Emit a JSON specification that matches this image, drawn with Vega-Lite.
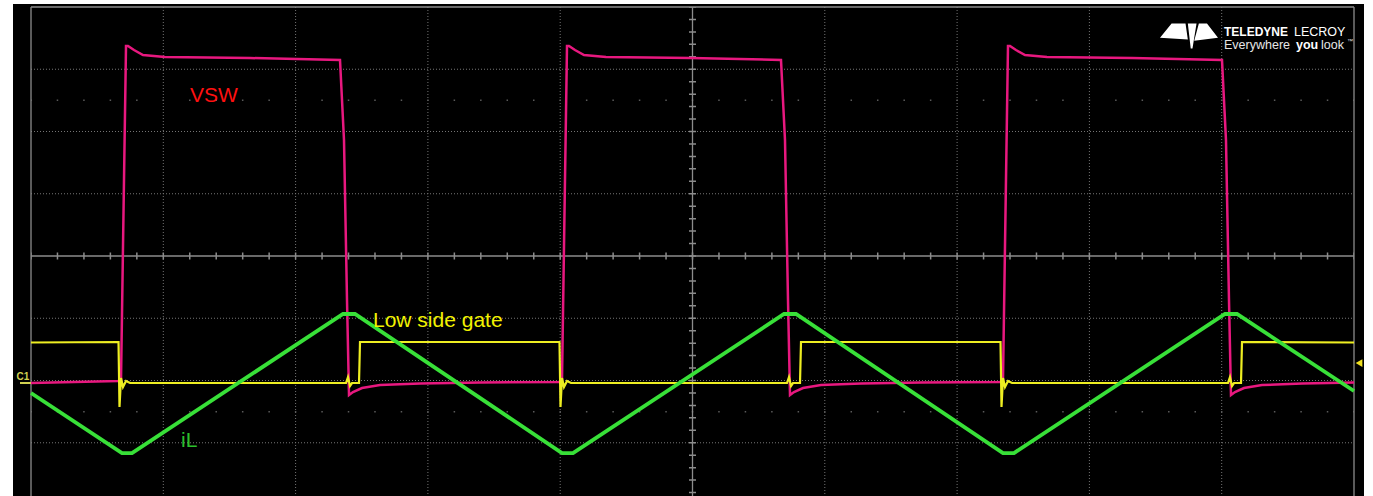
{
  "$schema": "https://vega.github.io/schema/vega-lite/v6.json",
  "width": 1351,
  "height": 492,
  "autosize": {"type": "none"},
  "padding": {"left": 13, "top": 4, "right": 9, "bottom": 0},
  "background": "white",
  "view": {"fill": "black", "stroke": null},
  "datasets": {
    "traces": [
      {"ch": "VSW", "t": 0, "v": -2.0402}, {"ch": "VSW", "t": 0.6576, "v": -2.008}, {"ch": "VSW", "t": 0.6803, "v": -1.992},
      {"ch": "VSW", "t": 0.7181, "v": 3.3735}, {"ch": "VSW", "t": 0.7332, "v": 3.3735}, {"ch": "VSW", "t": 0.7785, "v": 3.3092},
      {"ch": "VSW", "t": 0.8466, "v": 3.2289}, {"ch": "VSW", "t": 1.0128, "v": 3.1968}, {"ch": "VSW", "t": 1.6553, "v": 3.1807},
      {"ch": "VSW", "t": 2.3356, "v": 3.1486}, {"ch": "VSW", "t": 2.3658, "v": 1.8635}, {"ch": "VSW", "t": 2.3885, "v": -0.7068},
      {"ch": "VSW", "t": 2.4036, "v": -2.2329}, {"ch": "VSW", "t": 2.4339, "v": -2.1847}, {"ch": "VSW", "t": 2.5019, "v": -2.1205},
      {"ch": "VSW", "t": 2.6379, "v": -2.0723}, {"ch": "VSW", "t": 2.9403, "v": -2.0482}, {"ch": "VSW", "t": 3.3938, "v": -2.0321},
      {"ch": "VSW", "t": 3.9909, "v": -2.0241},
      {"ch": "VSW", "t": 4.0136, "v": -1.992}, {"ch": "VSW", "t": 4.0514, "v": 3.3735}, {"ch": "VSW", "t": 4.0665, "v": 3.3735},
      {"ch": "VSW", "t": 4.1118, "v": 3.3092}, {"ch": "VSW", "t": 4.1799, "v": 3.2289}, {"ch": "VSW", "t": 4.3461, "v": 3.1968},
      {"ch": "VSW", "t": 4.9887, "v": 3.1807}, {"ch": "VSW", "t": 5.6689, "v": 3.1486}, {"ch": "VSW", "t": 5.6991, "v": 1.8635},
      {"ch": "VSW", "t": 5.7218, "v": -0.7068}, {"ch": "VSW", "t": 5.7369, "v": -2.2329}, {"ch": "VSW", "t": 5.7672, "v": -2.1847},
      {"ch": "VSW", "t": 5.8352, "v": -2.1205}, {"ch": "VSW", "t": 5.9712, "v": -2.0723}, {"ch": "VSW", "t": 6.2736, "v": -2.0482},
      {"ch": "VSW", "t": 6.7271, "v": -2.0321}, {"ch": "VSW", "t": 7.3242, "v": -2.0241},
      {"ch": "VSW", "t": 7.3469, "v": -1.992}, {"ch": "VSW", "t": 7.3847, "v": 3.3735}, {"ch": "VSW", "t": 7.3998, "v": 3.3735},
      {"ch": "VSW", "t": 7.4451, "v": 3.3092}, {"ch": "VSW", "t": 7.5132, "v": 3.2289}, {"ch": "VSW", "t": 7.6794, "v": 3.1968},
      {"ch": "VSW", "t": 8.322, "v": 3.1807}, {"ch": "VSW", "t": 9.0022, "v": 3.1486}, {"ch": "VSW", "t": 9.0324, "v": 1.8635},
      {"ch": "VSW", "t": 9.0551, "v": -0.7068}, {"ch": "VSW", "t": 9.0702, "v": -2.2329}, {"ch": "VSW", "t": 9.1005, "v": -2.1847},
      {"ch": "VSW", "t": 9.1685, "v": -2.1205}, {"ch": "VSW", "t": 9.3045, "v": -2.0723}, {"ch": "VSW", "t": 9.6069, "v": -2.0482},
      {"ch": "VSW", "t": 10, "v": -2.0321},

      {"ch": "gate", "t": 0, "v": -1.3896}, {"ch": "gate", "t": 0.6614, "v": -1.3815}, {"ch": "gate", "t": 0.6689, "v": -2.4257},
      {"ch": "gate", "t": 0.6803, "v": -1.9598}, {"ch": "gate", "t": 0.6954, "v": -2.1044}, {"ch": "gate", "t": 0.7181, "v": -2.008},
      {"ch": "gate", "t": 0.7483, "v": -2.0402}, {"ch": "gate", "t": 2.381, "v": -2.0402}, {"ch": "gate", "t": 2.3961, "v": -1.9438},
      {"ch": "gate", "t": 2.4112, "v": -2.0884}, {"ch": "gate", "t": 2.4263, "v": -2.0402}, {"ch": "gate", "t": 2.4792, "v": -2.0402},
      {"ch": "gate", "t": 2.4868, "v": -1.3815},
      {"ch": "gate", "t": 3.9947, "v": -1.3815}, {"ch": "gate", "t": 4.0022, "v": -2.4257}, {"ch": "gate", "t": 4.0136, "v": -1.9598},
      {"ch": "gate", "t": 4.0287, "v": -2.1044}, {"ch": "gate", "t": 4.0514, "v": -2.008}, {"ch": "gate", "t": 4.0816, "v": -2.0402},
      {"ch": "gate", "t": 5.7143, "v": -2.0402}, {"ch": "gate", "t": 5.7294, "v": -1.9438}, {"ch": "gate", "t": 5.7445, "v": -2.0884},
      {"ch": "gate", "t": 5.7596, "v": -2.0402}, {"ch": "gate", "t": 5.8125, "v": -2.0402}, {"ch": "gate", "t": 5.8201, "v": -1.3815},
      {"ch": "gate", "t": 7.3281, "v": -1.3815}, {"ch": "gate", "t": 7.3356, "v": -2.4257}, {"ch": "gate", "t": 7.3469, "v": -1.9598},
      {"ch": "gate", "t": 7.3621, "v": -2.1044}, {"ch": "gate", "t": 7.3847, "v": -2.008}, {"ch": "gate", "t": 7.415, "v": -2.0402},
      {"ch": "gate", "t": 9.0476, "v": -2.0402}, {"ch": "gate", "t": 9.0627, "v": -1.9438}, {"ch": "gate", "t": 9.0778, "v": -2.0884},
      {"ch": "gate", "t": 9.093, "v": -2.0402}, {"ch": "gate", "t": 9.1459, "v": -2.0402}, {"ch": "gate", "t": 9.1535, "v": -1.3815},
      {"ch": "gate", "t": 10, "v": -1.3896},

      {"ch": "iL", "t": 0, "v": -2.2008}, {"ch": "iL", "t": 0.6878, "v": -3.1647}, {"ch": "iL", "t": 0.7634, "v": -3.1647},
      {"ch": "iL", "t": 2.3583, "v": -0.9317}, {"ch": "iL", "t": 2.449, "v": -0.9317}, {"ch": "iL", "t": 4.0136, "v": -3.1647},
      {"ch": "iL", "t": 4.0968, "v": -3.1647}, {"ch": "iL", "t": 5.6916, "v": -0.9317}, {"ch": "iL", "t": 5.7823, "v": -0.9317},
      {"ch": "iL", "t": 7.3469, "v": -3.1647}, {"ch": "iL", "t": 7.4301, "v": -3.1647}, {"ch": "iL", "t": 9.0249, "v": -0.9317},
      {"ch": "iL", "t": 9.1157, "v": -0.9317}, {"ch": "iL", "t": 10, "v": -2.1687}
    ]
  },
  "encoding": {
    "x": {"field": "t", "type": "quantitative", "scale": {"domain": [-0.1361, 10.0756], "nice": false, "zero": false}, "axis": null},
    "y": {"field": "v", "type": "quantitative", "scale": {"domain": [-3.855, 4.048], "nice": false, "zero": false}, "axis": null}
  },
  "layer": [
    {
      "data": {"values": [
        {"t": 0, "t2": 10, "v": 3}, {"t": 0, "t2": 10, "v": 2}, {"t": 0, "t2": 10, "v": 1},
        {"t": 0, "t2": 10, "v": -1}, {"t": 0, "t2": 10, "v": -2}, {"t": 0, "t2": 10, "v": -3}
      ]},
      "mark": {"type": "rule", "color": "#767676", "strokeWidth": 1, "strokeDash": [1, 2]},
      "encoding": {"x2": {"field": "t2"}}
    },
    {
      "data": {"values": [
        {"t": 1, "v": 4, "v2": -3.9}, {"t": 2, "v": 4, "v2": -3.9}, {"t": 3, "v": 4, "v2": -3.9}, {"t": 4, "v": 4, "v2": -3.9},
        {"t": 6, "v": 4, "v2": -3.9}, {"t": 7, "v": 4, "v2": -3.9}, {"t": 8, "v": 4, "v2": -3.9}, {"t": 9, "v": 4, "v2": -3.9}
      ]},
      "mark": {"type": "rule", "color": "#767676", "strokeWidth": 1, "strokeDash": [1, 2]},
      "encoding": {"y2": {"field": "v2"}}
    },
    {
      "data": {"values": [{"t": 0, "t2": 10, "v": 2.5}, {"t": 0, "t2": 10, "v": -2.5}]},
      "mark": {"type": "rule", "color": "#5a5a5a", "strokeWidth": 1.5, "strokeDash": [1.5, 24.96], "strokeDashOffset": 0.75},
      "encoding": {"x2": {"field": "t2"}}
    },
    {
      "data": {"values": [{"t": 0, "t2": 10, "v": 4}, {"t": 0, "t2": 10, "v": 0}]},
      "mark": {"type": "rule", "color": "#8c8c8c", "strokeWidth": 1.3},
      "encoding": {"x2": {"field": "t2"}}
    },
    {
      "data": {"values": [{"t": 0, "v": 4, "v2": -3.9}, {"t": 10, "v": 4, "v2": -3.9}, {"t": 5, "v": 4, "v2": -3.9}]},
      "mark": {"type": "rule", "color": "#8c8c8c", "strokeWidth": 1.3},
      "encoding": {"y2": {"field": "v2"}}
    },
    {
      "data": {"values": [{"t": 0, "t2": 10, "v": 0}]},
      "mark": {"type": "rule", "color": "#8c8c8c", "strokeWidth": 7, "strokeDash": [1.5, 24.96], "strokeDashOffset": 0.75},
      "encoding": {"x2": {"field": "t2"}}
    },
    {
      "data": {"values": [{"t": 5, "v": 4, "v2": -3.9}]},
      "mark": {"type": "rule", "color": "#8c8c8c", "strokeWidth": 7, "strokeDash": [1.5, 10.95], "strokeDashOffset": 0.75},
      "encoding": {"y2": {"field": "v2"}}
    },
    {
      "data": {"name": "traces"},
      "transform": [{"filter": "datum.ch === 'VSW'"}],
      "mark": {"type": "line", "color": "#e8187f", "strokeWidth": 2.5, "interpolate": "linear"}
    },
    {
      "data": {"name": "traces"},
      "transform": [{"filter": "datum.ch === 'gate'"}],
      "mark": {"type": "line", "color": "#eeee22", "strokeWidth": 2.2, "interpolate": "linear"}
    },
    {
      "data": {"name": "traces"},
      "transform": [{"filter": "datum.ch === 'iL'"}],
      "mark": {"type": "line", "color": "#38e038", "strokeWidth": 3.8, "interpolate": "linear"}
    },
    {
      "data": {"values": [
        {"label": "VSW", "t": 1.2018, "v": 2.474},
        {"label": "Low side gate", "t": 2.585, "v": -1.1406},
        {"label": "iL", "t": 1.1338, "v": -3.068}
      ]},
      "mark": {"type": "text", "align": "left", "baseline": "alphabetic", "font": "Liberation Sans", "fontSize": 21},
      "encoding": {
        "text": {"field": "label"},
        "color": {"field": "label", "type": "nominal", "legend": null,
          "scale": {"domain": ["VSW", "Low side gate", "iL"], "range": ["#ff1010", "#f2f200", "#2cc02c"]}}
      }
    },
    {
      "data": {"values": [{"label": "C1", "t": -0.0605, "v": -1.992}]},
      "mark": {"type": "text", "align": "center", "baseline": "alphabetic", "font": "Liberation Sans", "fontSize": 10, "fontWeight": "bold", "color": "#d0d050"},
      "encoding": {"text": {"field": "label"}}
    },
    {
      "data": {"values": [{"t": -0.0831, "t2": 0, "v": -2.04}]},
      "mark": {"type": "rule", "color": "#d0d050", "strokeWidth": 2},
      "encoding": {"x2": {"field": "t2"}}
    },
    {
      "data": {"values": [{"t": 10.0378, "v": -1.719}]},
      "mark": {"type": "point", "shape": "triangle-left", "filled": true, "color": "#f0e020", "size": 60, "opacity": 1}
    },
    {
      "data": {"values": [{"t": 8.7528, "v": 3.534}]},
      "mark": {"type": "point", "filled": true, "color": "white", "opacity": 1, "size": 3364,
        "shape": "M -1 0.06 L -0.6 -0.43 L -0.12 -0.43 L -0.04 0.12 Z M -0.04 -0.43 L 0.26 -0.43 L 0.12 0.43 L 0.06 0.43 Z M 0.34 -0.43 L 0.62 -0.43 L 1 0.06 L 0.18 0.16 Z"}
    },
    {
      "data": {"values": [{"label": "TELEDYNE", "t": 9.0174, "v": 3.5261}]},
      "mark": {"type": "text", "align": "left", "baseline": "alphabetic", "font": "Liberation Sans", "fontSize": 12, "fontWeight": "bold", "color": "white"},
      "encoding": {"text": {"field": "label"}}
    },
    {
      "data": {"values": [{"label": "LECROY", "t": 9.5465, "v": 3.5261}]},
      "mark": {"type": "text", "align": "left", "baseline": "alphabetic", "font": "Liberation Sans", "fontSize": 12.5, "color": "white"},
      "encoding": {"text": {"field": "label"}}
    },
    {
      "data": {"values": [{"label": "Everywhere", "t": 9.0174, "v": 3.3173}, {"label": "look", "t": 9.7506, "v": 3.3173}]},
      "mark": {"type": "text", "align": "left", "baseline": "alphabetic", "font": "Liberation Sans", "fontSize": 12.5, "color": "#e6e6e6"},
      "encoding": {"text": {"field": "label"}}
    },
    {
      "data": {"values": [{"label": "you", "t": 9.5616, "v": 3.3173}]},
      "mark": {"type": "text", "align": "left", "baseline": "alphabetic", "font": "Liberation Sans", "fontSize": 12.5, "fontWeight": "bold", "color": "white"},
      "encoding": {"text": {"field": "label"}}
    },
    {
      "data": {"values": [{"label": "™", "t": 9.9471, "v": 3.4217}]},
      "mark": {"type": "text", "align": "left", "baseline": "alphabetic", "font": "Liberation Sans", "fontSize": 6, "color": "#e6e6e6"},
      "encoding": {"text": {"field": "label"}}
    }
  ]
}
